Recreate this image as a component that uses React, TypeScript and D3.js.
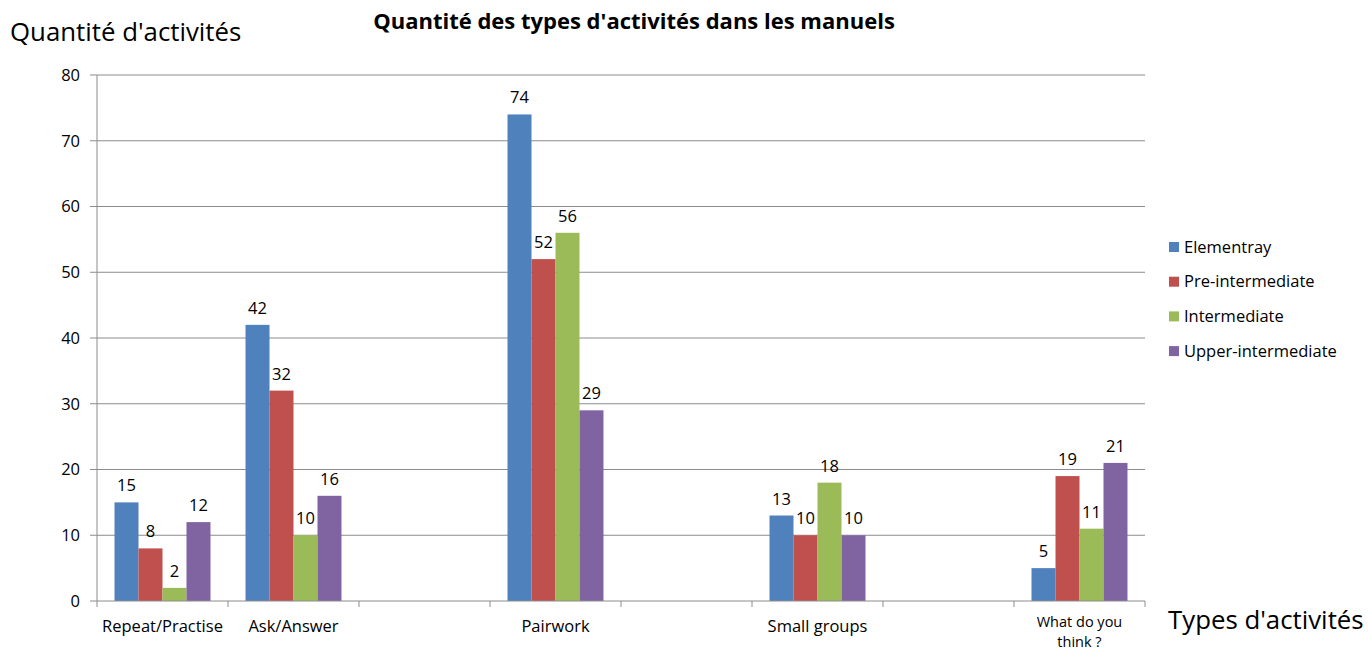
import React from "react";
import * as d3 from "d3";

const categories = ["Repeat/Practise", "Ask/Answer", "", "Pairwork", "", "Small groups", "", "What do you think ?"];
const seriesNames = ["Elementray", "Pre-intermediate", "Intermediate", "Upper-intermediate"];
const colors = ["#4F81BD", "#C0504D", "#9BBB59", "#8064A2"];
const elementary = [15, 42, null, 74, null, 13, null, 5];
const preIntermediate = [8, 32, null, 52, null, 10, null, 19];
const intermediate = [2, 10, null, 56, null, 18, null, 11];
const upperIntermediate = [12, 16, null, 29, null, 10, null, 21];
const yTicks = [0, 10, 20, 30, 40, 50, 60, 70, 80];

const allSeries = [elementary, preIntermediate, intermediate, upperIntermediate];

const font = "'Open Sans', sans-serif";

export default function App() {
  const width = 1368;
  const height = 654;
  const margin = { left: 97, right: 223, top: 75, bottom: 53 };
  const plotRight = width - margin.right;
  const plotBottom = height - margin.bottom;

  const x = d3.scaleBand().domain(categories.map((_, i) => String(i))).range([margin.left, plotRight]);
  const inner = d3.scaleBand().domain(seriesNames).range([0, x.bandwidth()]).paddingOuter(0.73).paddingInner(0);
  const y = d3.scaleLinear().domain([0, 80]).range([plotBottom, margin.top]);

  const boundaries = d3.range(categories.length + 1).map((i) => margin.left + i * x.step());
  const fs = 16.5;

  return (
    <svg width={width} height={height} style={{ position: "absolute", left: 0, top: 0, fontFamily: font, fontVariantLigatures: "none" }}>
      <rect width={width} height={height} fill="#fff" />
      <text x={634} y={29} textAnchor="middle" fontWeight="bold" fontSize={22} fill="#000">
        Quantité des types d'activités dans les manuels
      </text>
      <text x={10} y={41} fontSize={25.8} fill="#000">Quantité d'activités</text>
      <text x={1168} y={629} fontSize={25.8} fill="#000">Types d'activités</text>

      {yTicks.map((t) => (
        <g key={t}>
          {t > 0 && <line x1={margin.left} x2={plotRight} y1={y(t)} y2={y(t)} stroke="#8c8c8c" strokeWidth={1} />}
          <line x1={margin.left - 7} x2={margin.left} y1={y(t)} y2={y(t)} stroke="#8c8c8c" />
          <text x={80} y={y(t)} dy="0.35em" textAnchor="end" fontSize={fs} fill="#000">{t}</text>
        </g>
      ))}

      {allSeries.map((vals, si) =>
        vals.map((v, ci) =>
          v == null ? null : (
            <g key={si + "-" + ci}>
              <rect
                x={(x(String(ci)) as number) + (inner(seriesNames[si]) as number)}
                y={y(v)}
                width={inner.bandwidth()}
                height={plotBottom - y(v)}
                fill={colors[si]}
              />
              <text
                x={(x(String(ci)) as number) + (inner(seriesNames[si]) as number) + inner.bandwidth() / 2}
                y={y(v) - 11}
                textAnchor="middle"
                fontSize={fs}
                fill="#000"
              >
                {v}
              </text>
            </g>
          )
        )
      )}

      <line x1={margin.left} x2={margin.left} y1={margin.top} y2={plotBottom} stroke="#8c8c8c" />
      <line x1={margin.left} x2={plotRight} y1={plotBottom} y2={plotBottom} stroke="#8c8c8c" />
      {boundaries.map((bx, i) => (
        <line key={i} x1={bx} x2={bx} y1={plotBottom} y2={plotBottom + 6} stroke="#8c8c8c" />
      ))}

      {categories.map((c, i) => {
        const cx = (x(String(i)) as number) + x.bandwidth() / 2;
        if (c === "What do you think ?") {
          return (
            <g key={i}>
              <text x={cx} y={627} textAnchor="middle" fontSize={14.5} fill="#000">What do you</text>
              <text x={cx} y={647} textAnchor="middle" fontSize={14.5} fill="#000">think ?</text>
            </g>
          );
        }
        return (
          <text key={i} x={cx} y={632} textAnchor="middle" fontSize={fs} fill="#000">{c}</text>
        );
      })}

      {seriesNames.map((s, i) => (
        <g key={s} transform={`translate(1169, ${247 + i * 34.7})`}>
          <rect x={0} y={-5} width={10} height={10} fill={colors[i]} />
          <text x={15} y={0} dy="0.35em" fontSize={fs} fill="#000">{s}</text>
        </g>
      ))}
    </svg>
  );
}
